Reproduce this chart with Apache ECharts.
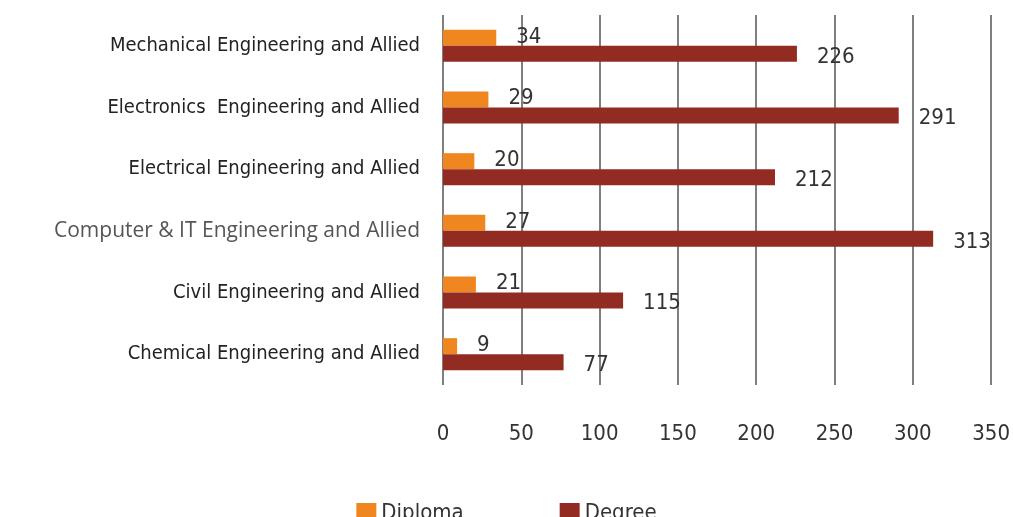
<!DOCTYPE html>
<html>
<head>
<meta charset="utf-8">
<script src="https://cdn.jsdelivr.net/npm/echarts@6/dist/echarts.min.js"></script>
<style>
  html, body { margin: 0; padding: 0; background: #fff; }
  #chart { width: 1013px; height: 517px; }
</style>
</head>
<body>
<div id="chart"></div>
<script>
var categories = [
  'Chemical Engineering and Allied',
  'Civil Engineering and Allied',
  'Computer & IT Engineering and Allied',
  'Electrical Engineering and Allied',
  'Electronics  Engineering and Allied',
  'Mechanical Engineering and Allied'
];
var diploma = [9, 21, 27, 20, 29, 34];
var degree = [77, 115, 313, 212, 291, 226];
var xTicks = [0, 350, 50];

var narrow = "'Liberation Sans Narrow', 'DejaVu Sans Condensed', sans-serif";

var chart = echarts.init(document.getElementById('chart'));
var option = {
  animation: false,
  grid: { left: 443, right: 18, top: 15, bottom: 132, containLabel: false },
  legend: {
    bottom: -12,
    left: 'center',
    itemWidth: 20,
    itemHeight: 20,
    itemGap: 96,
    icon: 'rect',
    textStyle: { fontFamily: narrow, fontSize: 22, color: '#333' },
    data: ['Diploma', 'Degree']
  },
  xAxis: {
    type: 'value',
    min: xTicks[0],
    max: xTicks[1],
    interval: xTicks[2],
    axisLine: { show: false },
    axisTick: { show: false },
    axisLabel: { fontFamily: narrow, fontSize: 22, color: '#333', margin: 38 },
    splitLine: { lineStyle: { color: '#555', width: 1.5 } }
  },
  yAxis: {
    type: 'category',
    data: categories,
    axisLine: { show: false },
    axisTick: { show: false },
    axisLabel: {
      margin: 23,
      fontFamily: narrow,
      fontSize: 20,
      color: '#222',
      formatter: function (v) {
        return v.indexOf('Computer') === 0 ? '{cit|' + v + '}' : v;
      },
      rich: {
        cit: { fontFamily: "'Open Sans', 'Noto Sans', sans-serif", fontSize: 21, color: '#555' }
      }
    }
  },
  series: [
    {
      name: 'Diploma',
      type: 'bar',
      data: diploma,
      barWidth: 16,
      barGap: '0%',
      itemStyle: { color: '#F0861F' },
      label: {
        show: true, position: 'right', distance: 20, offset: [0, -1],
        fontFamily: narrow, fontSize: 22, color: '#333'
      }
    },
    {
      name: 'Degree',
      type: 'bar',
      data: degree,
      barWidth: 16,
      barGap: '0%',
      itemStyle: { color: '#922B22' },
      label: {
        show: true, position: 'right', distance: 20, offset: [0, 3],
        fontFamily: narrow, fontSize: 22, color: '#333'
      }
    }
  ]
};
chart.setOption(option);
</script>
</body>
</html>
